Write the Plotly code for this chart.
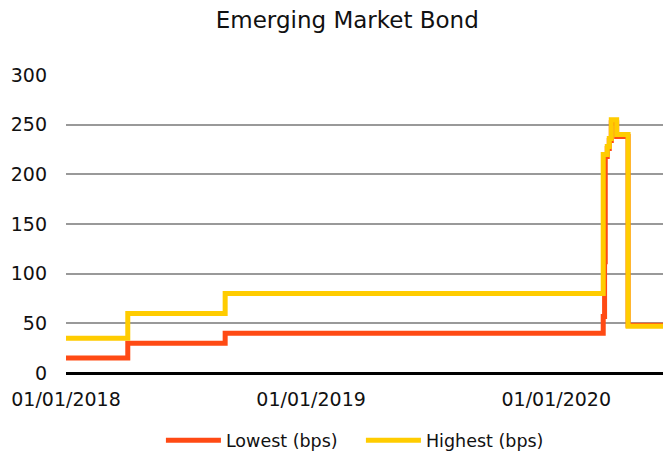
import plotly.graph_objects as go

# Step-change dates and values
low_dates = ["2018-01-01", "2018-04-03", "2018-08-26", "2020-03-11", "2020-03-13",
             "2020-03-14", "2020-03-17", "2020-03-20", "2020-03-23", "2020-03-31",
             "2020-04-17", "2020-06-18", "2020-06-25"]
low_vals = [15, 30, 40, 57, 112, 218, 226, 234, 252, 238, 48, 45, 45]

high_dates = ["2018-01-01", "2018-04-03", "2018-08-26", "2020-03-11",
              "2020-03-17", "2020-03-20", "2020-03-23", "2020-03-31", "2020-04-17",
              "2020-06-18", "2020-06-25"]
high_vals = [35, 60, 80, 220, 228, 236, 255, 240, 47, 45, 45]

tick_dates = ["2018-01-01", "2019-01-01", "2020-01-01"]
tick_text = ["01/01/2018", "01/01/2019", "01/01/2020"]
y_ticks = [0, 50, 100, 150, 200, 250, 300]

FONT = "DejaVu Sans"

fig = go.Figure()
fig.add_trace(go.Scatter(x=low_dates, y=low_vals, mode="lines", name="Lowest (bps)",
                         line=dict(color="#FF4A14", width=5, shape="hv")))
fig.add_trace(go.Scatter(x=high_dates, y=high_vals, mode="lines", name="Highest (bps)",
                         line=dict(color="#FFCC00", width=5, shape="hv")))

fig.update_layout(
    width=655, height=457,
    paper_bgcolor="white", plot_bgcolor="white",
    margin=dict(l=58, r=0, t=67, b=92, autoexpand=False),
    title=dict(text="Emerging Market Bond", x=0.518, xanchor="center", y=0.973, yanchor="middle",
               font=dict(family=FONT, size=23, color="#111")),
    font=dict(family=FONT, size=19, color="#111"),
    showlegend=True,
    legend=dict(orientation="h", x=0.494, xanchor="center", y=-0.226, yanchor="middle",
                font=dict(family=FONT, size=17.5, color="#111"), itemwidth=55,
                entrywidth=130),
    xaxis=dict(range=["2018-01-01", "2020-06-08"], tickvals=tick_dates, ticktext=tick_text,
               showgrid=False, showline=False, zeroline=False, ticks="", automargin=False,
               ticklabelstandoff=13, tickfont=dict(size=19)),
    yaxis=dict(range=[0, 300], tickvals=y_ticks, showgrid=True, gridcolor="#999999", gridwidth=1.5,
               zeroline=True, zerolinecolor="black", zerolinewidth=3, showline=False,
               automargin=False, ticks="", ticklabelstandoff=18, tickfont=dict(size=19)),
)

fig.write_html("out.html")
